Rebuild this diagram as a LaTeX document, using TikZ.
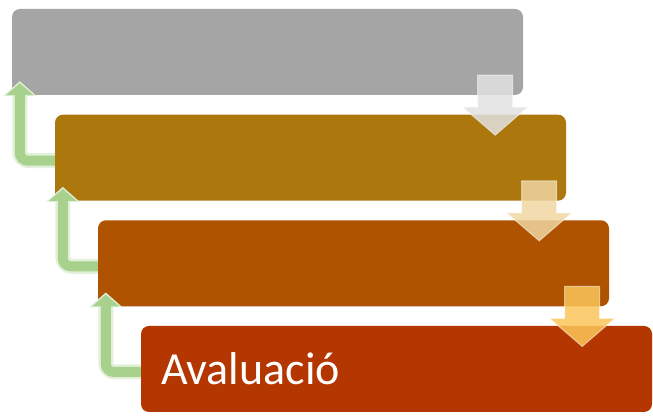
\documentclass[tikz,border=0pt]{standalone}
\usepackage{fontspec}
\setmainfont{Carlito}
\usetikzlibrary{positioning, calc, arrows.meta}
\definecolor{stageA}{HTML}{A5A5A5}
\definecolor{stageB}{HTML}{AC780E}
\definecolor{stageC}{HTML}{AF5300}
\definecolor{stageD}{HTML}{B43600}
\definecolor{dropA}{HTML}{E2E2E2}
\definecolor{dropB}{HTML}{F0D6A2}
\definecolor{dropC}{HTML}{FCC65A}
\definecolor{backfill}{HTML}{A9D18E}
\definecolor{backrim}{HTML}{E2F0D9}
\begin{document}
\begin{tikzpicture}
    [x=1pt, y=1pt,
    stage/.style={rounded corners=8pt, minimum height=86pt, text width=471pt,
      inner xsep=20pt, align=left, text=white,
      font=\fontsize{46}{50}\selectfont},
    drop/.style={line width=1pt, fill opacity=0.85, draw opacity=0.5, draw=white},
    rim/.style={draw=backrim, line width=15pt, rounded corners=9pt,
      -{Triangle[width=33pt, length=15pt]}},
    back/.style={draw=backfill, line width=10pt, rounded corners=8pt,
      -{Triangle[width=27pt, length=12pt]}}]
    \useasboundingbox (0,0) rectangle (653,419);

    \node[stage, fill=stageA] (b1) at (267.5,367) {};
    \node[stage, fill=stageB] (b2) at (310.5,261.3) {};
    \node[stage, fill=stageC] (b3) at (353.5,155.7) {};
    \node[stage, fill=stageD] (b4) at (396.5,50) {Avaluaci\'o};

    % steps down
    \draw[drop, fill=dropA] ($(b1.south east)+(-45.5,20)$)
      -- ++(35,0) -- ++(0,-32) -- ++(15,0) -- ++(-32.5,-28)
      -- ++(-32.5,28) -- ++(15,0) -- cycle;
    \draw[drop, fill=dropB] ($(b2.south east)+(-44.5,20)$)
      -- ++(35,0) -- ++(0,-32) -- ++(15,0) -- ++(-32.5,-28)
      -- ++(-32.5,28) -- ++(15,0) -- cycle;
    \draw[drop, fill=dropC] ($(b3.south east)+(-44.5,20)$)
      -- ++(35,0) -- ++(0,-32) -- ++(15,0) -- ++(-32.5,-28)
      -- ++(-32.5,28) -- ++(15,0) -- cycle;

    % back to the previous stage
    \draw[rim] ([yshift=-3pt]b2.west) -| ($(b1.south west)+(8,14)$);
    \draw[back] ([yshift=-3pt]b2.west) -| ($(b1.south west)+(8,12)$);
    \draw[rim] ([yshift=-3pt]b3.west) -| ($(b2.south west)+(8,14)$);
    \draw[back] ([yshift=-3pt]b3.west) -| ($(b2.south west)+(8,12)$);
    \draw[rim] ([yshift=-3pt]b4.west) -| ($(b3.south west)+(8,14)$);
    \draw[back] ([yshift=-3pt]b4.west) -| ($(b3.south west)+(8,12)$);
  \end{tikzpicture}
\end{document}
